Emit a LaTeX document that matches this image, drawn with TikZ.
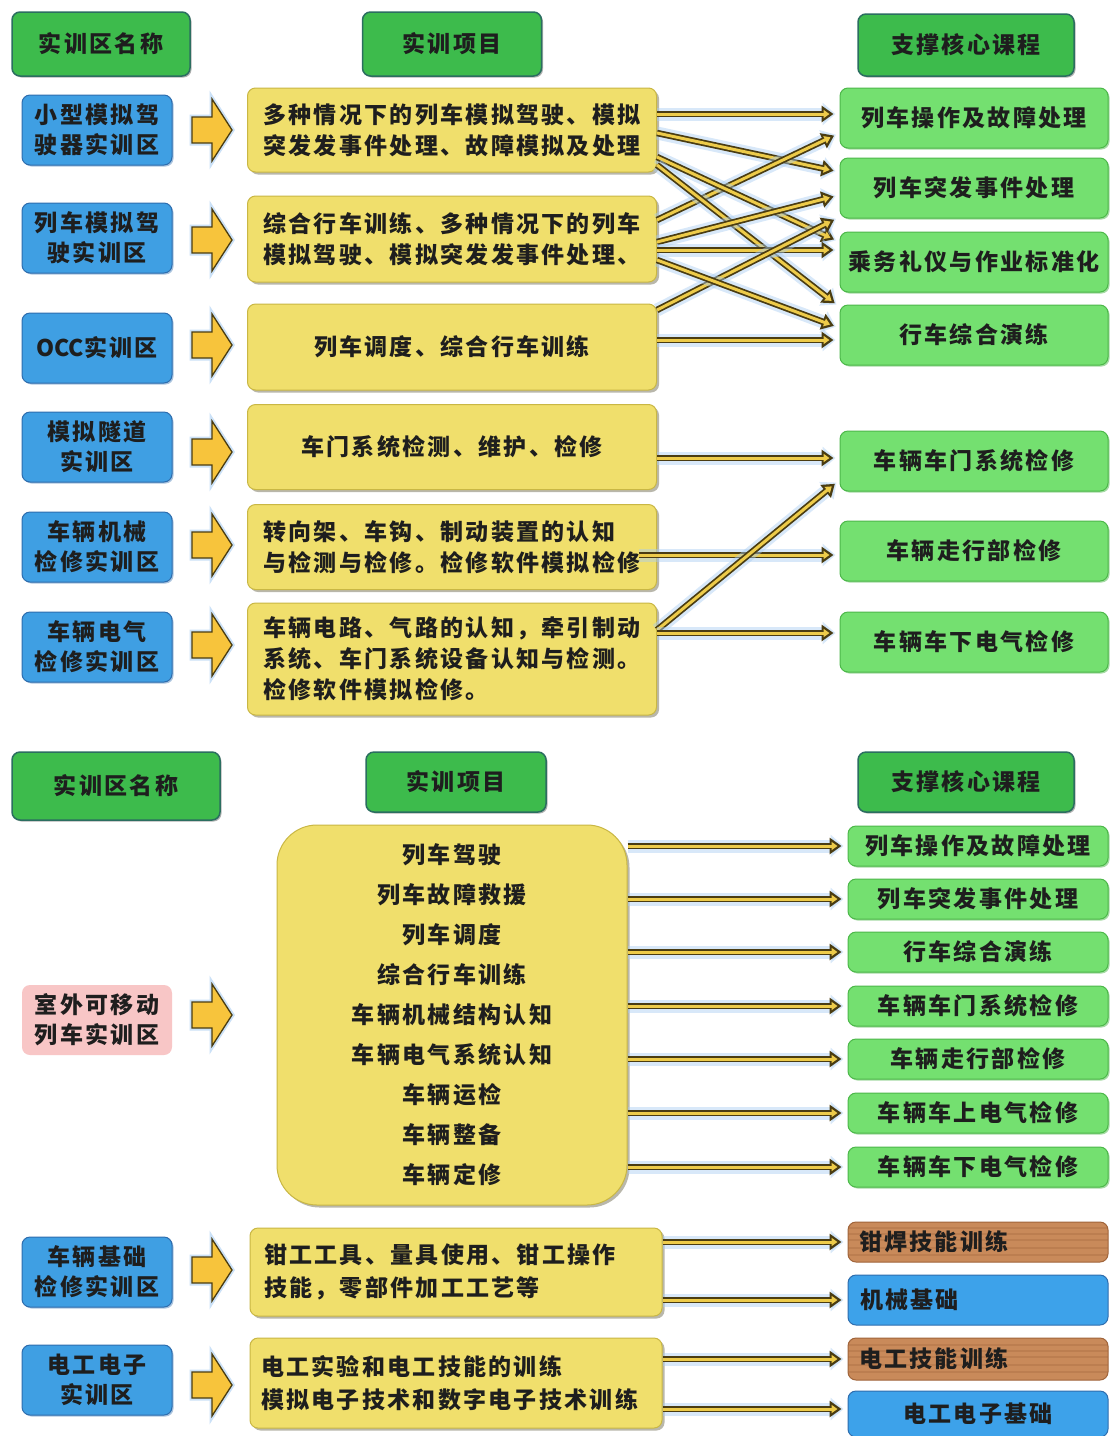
\documentclass[tikz,border=0pt]{standalone}
\usepackage{fontspec}
\newfontfamily\cjk[LetterSpace=10]{Noto Sans CJK SC}
\usetikzlibrary{shadows,arrows.meta}

\definecolor{hdrgreen}{HTML}{3DBB4C}
\definecolor{hdrborder}{HTML}{2B6E60}
\definecolor{lgreen}{HTML}{74E070}
\definecolor{lgreenb}{HTML}{4DB84A}
\definecolor{bluebox}{HTML}{3F9FE3}
\definecolor{blueb}{HTML}{2E6DAE}
\definecolor{ybox}{HTML}{F0DF6C}
\definecolor{yboxb}{HTML}{C9B744}
\definecolor{pinkbox}{HTML}{F8C6C6}
\definecolor{wood}{HTML}{C98A5A}
\definecolor{woodd}{HTML}{A0643A}
\definecolor{cblue}{HTML}{3DA2EA}
\definecolor{connd}{HTML}{4A3C12}
\definecolor{connf}{HTML}{EDCB4A}
\definecolor{glowc}{HTML}{A9CDF2}
\definecolor{arrf}{HTML}{F7C43C}
\definecolor{txt}{HTML}{1E1E1E}

\tikzset{
  base/.style={rounded corners=8pt, font=\cjk\bfseries\fontsize{23}{30}\selectfont,
    text=txt, inner sep=0pt, align=center, line width=1.5pt},
  hdr/.style={base, fill=hdrgreen, draw=hdrborder,
    drop shadow={shadow xshift=1.5pt, shadow yshift=-1.5pt, fill=black, opacity=.3}},
  zone/.style={base, fill=bluebox, draw=blueb, line width=1pt, minimum width=150pt, minimum height=70pt,
    drop shadow={shadow xshift=1.5pt, shadow yshift=-1.5pt, fill=blueb, opacity=.4}},
  pinkzone/.style={base, fill=pinkbox, draw=none, minimum width=150pt, minimum height=70pt},
  proj/.style={base, fill=ybox, draw=yboxb, line width=1pt, minimum width=409pt, align=left,
    font=\cjk\bfseries\fontsize{23}{31}\selectfont,
    drop shadow={shadow xshift=2.5pt, shadow yshift=-2.5pt, fill=black!70!yellow, opacity=.45}},
  course/.style={base, fill=lgreen, draw=lgreenb, line width=1pt, minimum width=268pt, minimum height=60pt,
    drop shadow={shadow xshift=1.5pt, shadow yshift=-1.5pt, fill=lgreenb, opacity=.5}},
  bcourse/.style={course, minimum width=260pt, minimum height=40pt},
  woodbox/.style={base, fill=wood, draw=woodd, line width=1pt, minimum width=260pt,
    text width=238pt, align=left,
    path picture={\foreach \s in {-13,-6,2,8,14}{\draw[woodd, opacity=.3, line width=1.2pt]
      ([yshift=\s pt]path picture bounding box.west) -- ([yshift=\s pt]path picture bounding box.east);}}},
  cbluebox/.style={base, fill=cblue, draw=blueb, line width=1pt, minimum width=260pt},
  conn/.style={
    preaction={draw=glowc, line width=13pt, opacity=.45, shorten >=4pt, -{Triangle[length=13pt,width=22pt]}},
    draw=connd, line width=6.5pt, shorten >=6pt, -{Triangle[length=12pt,width=16pt]},
    postaction={draw=connf, line width=3pt, shorten >=10pt, -{Triangle[length=6pt,width=8pt]}}},
  fatarrow/.style={fill=arrf, draw=connd, line width=1.3pt, line join=miter,
    preaction={draw=glowc, line width=5pt, opacity=.6}},
  fatarr/.pic={\draw[fatarrow] (-19,-13) -- (1,-13) -- (1,-31) -- (21,0) -- (1,31) -- (1,13) -- (-19,13) -- cycle;}
}

\begin{document}
\begin{tikzpicture}[x=1pt, y=-1pt]
\useasboundingbox[fill=white] (0,0) rectangle (1110,1436);

% ---------------- TOP SECTION ----------------
\node[hdr, minimum width=178pt, minimum height=64pt] (H1) at (101,44) {实训区名称};
\node[hdr, minimum width=179pt, minimum height=64pt] (H2) at (452,44) {实训项目};
\node[hdr, minimum width=216pt, minimum height=62pt] (H3) at (966,45) {支撑核心课程};

\node[zone] (L1) at (97,130) {小型模拟驾\\驶器实训区};
\node[zone] (L2) at (97,238) {列车模拟驾\\驶实训区};
\node[zone] (L3) at (97,348) {{\addfontfeature{LetterSpace=0}OCC}实训区};
\node[zone] (L4) at (97,447) {模拟隧道\\实训区};
\node[zone] (L5) at (97,547) {车辆机械\\检修实训区};
\node[zone] (L6) at (97,647) {车辆电气\\检修实训区};

\pic at (211,130) {fatarr};
\pic at (211,240) {fatarr};
\pic at (211,345) {fatarr};
\pic at (211,452) {fatarr};
\pic at (211,545) {fatarr};
\pic at (211,645) {fatarr};

\node[proj, minimum height=84pt] (Y1) at (452,130) {多种情况下的列车模拟驾驶、模拟\\突发发事件处理、故障模拟及处理};
\node[proj, minimum height=86pt] (Y2) at (452,239) {综合行车训练、多种情况下的列车\\模拟驾驶、模拟突发发事件处理、};
\node[proj, minimum height=86pt, align=center] (Y3) at (452,347) {列车调度、综合行车训练};
\node[proj, minimum height=85pt, align=center] (Y4) at (452,447) {车门系统检测、维护、检修};
\node[proj, minimum height=85pt] (Y5) at (452,547) {转向架、车钩、制动装置的认知\\与检测与检修。检修软件模拟检修};
\node[proj, minimum height=112pt] (Y6) at (452,659) {车辆电路、气路的认知，牵引制动\\系统、车门系统设备认知与检测。\\检修软件模拟检修。};

\node[course] (G1) at (974,118) {列车操作及故障处理};
\node[course] (G2) at (974,188) {列车突发事件处理};
\node[course] (G3) at (974,262) {乘务礼仪与作业标准化};
\node[course] (G4) at (974,335) {行车综合演练};
\node[course] (G5) at (974,461) {车辆车门系统检修};
\node[course] (G6) at (974,551) {车辆走行部检修};
\node[course] (G7) at (974,642) {车辆车下电气检修};

\draw[conn] ([yshift=16pt]Y1.east) -- ([yshift=4pt]G1.west);
\draw[conn] ([yshift=-3pt]Y1.east) -- ([yshift=16pt]G2.west);
\draw[conn] ([yshift=19pt]Y2.east) -- ([yshift=-15pt]G1.west);
\draw[conn] ([yshift=-27pt]Y1.east) -- ([yshift=20pt]G3.west);
\draw[conn] ([yshift=-35pt]Y1.east) -- ([yshift=28pt]G4.west);
\draw[conn] ([yshift=-3pt]Y2.east) -- ([yshift=-7pt]G2.west);
\draw[conn] ([yshift=-11pt]Y2.east) -- ([yshift=12pt]G3.west);
\draw[conn] ([yshift=37pt]Y3.east) -- ([yshift=-29pt]G2.west);
\draw[conn] ([yshift=-21pt]Y2.east) -- ([yshift=7pt]G4.west);
\draw[conn] ([yshift=7pt]Y3.east) -- ([yshift=-5pt]G4.west);

\draw[conn] ([yshift=-11pt]Y4.east) -- ([yshift=3pt]G5.west);
\draw[conn] ([xshift=-18pt,yshift=-8pt]Y5.east) -- ([yshift=-4pt]G6.west);
\draw[conn] ([yshift=29pt]Y6.east) -- ([yshift=-19pt]G5.west);
\draw[conn] ([yshift=26pt]Y6.east) -- ([yshift=9pt]G7.west);

% ---------------- BOTTOM SECTION ----------------
\node[hdr, minimum width=208pt, minimum height=68pt] (H4) at (116,786) {实训区名称};
\node[hdr, minimum width=180pt, minimum height=60pt] (H5) at (456,782) {实训项目};
\node[hdr, minimum width=216pt, minimum height=60pt] (H6) at (966,782) {支撑核心课程};

\node[pinkzone] (P1) at (97,1020) {室外可移动\\列车实训区};
\pic at (211,1015) {fatarr};

\node[proj, rounded corners=40pt, minimum width=350pt, minimum height=380pt, align=center,
  font=\cjk\bfseries\fontsize{23}{40}\selectfont] (Y7) at (452,1015)
  {列车驾驶\\列车故障救援\\列车调度\\综合行车训练\\车辆机械结构认知\\车辆电气系统认知\\车辆运检\\车辆整备\\车辆定修};

\node[bcourse] (B1) at (978,846) {列车操作及故障处理};
\node[bcourse] (B2) at (978,899) {列车突发事件处理};
\node[bcourse] (B3) at (978,952) {行车综合演练};
\node[bcourse] (B4) at (978,1006) {车辆车门系统检修};
\node[bcourse] (B5) at (978,1059) {车辆走行部检修};
\node[bcourse] (B6) at (978,1113) {车辆车上电气检修};
\node[bcourse] (B7) at (978,1167) {车辆车下电气检修};

\foreach \b in {B1,B2,B3,B4,B5,B6,B7}{
  \draw[conn] (Y7.east |- \b.west) -- (\b.west);
}

\node[zone] (L7) at (97,1272) {车辆基础\\检修实训区};
\node[zone] (L8) at (97,1380) {电工电子\\实训区};
\pic at (211,1270) {fatarr};
\pic at (211,1385) {fatarr};

\node[proj, minimum width=412pt, minimum height=88pt, text width=384pt,
  font=\cjk\bfseries\fontsize{23}{33}\selectfont] (Y8) at (456,1272)
  {钳工工具、量具使用、钳工操作\\技能，零部件加工工艺等};
\node[proj, minimum width=412pt, minimum height=90pt, text width=390pt,
  font=\cjk\bfseries\fontsize{23}{33}\selectfont] (Y9) at (456,1383)
  {电工实验和电工技能的训练\\模拟电子技术和数字电子技术训练};

\node[woodbox, minimum height=40pt] (W1) at (978,1242) {钳焊技能训练};
\node[cbluebox, minimum height=50pt, text width=236pt, align=left] (C1) at (978,1300) {机械基础};
\node[woodbox, minimum height=42pt] (W2) at (978,1359) {电工技能训练};
\node[cbluebox, minimum height=46pt] (C2) at (978,1414) {电工电子基础};

\draw[conn] (Y8.east |- W1.west) -- (W1.west);
\draw[conn] (Y8.east |- C1.west) -- (C1.west);
\draw[conn] (Y9.east |- W2.west) -- (W2.west);
\draw[conn] ([yshift=5pt]Y9.east |- C2.west) -- ([yshift=5pt]C2.west);
\end{tikzpicture}
\end{document}
